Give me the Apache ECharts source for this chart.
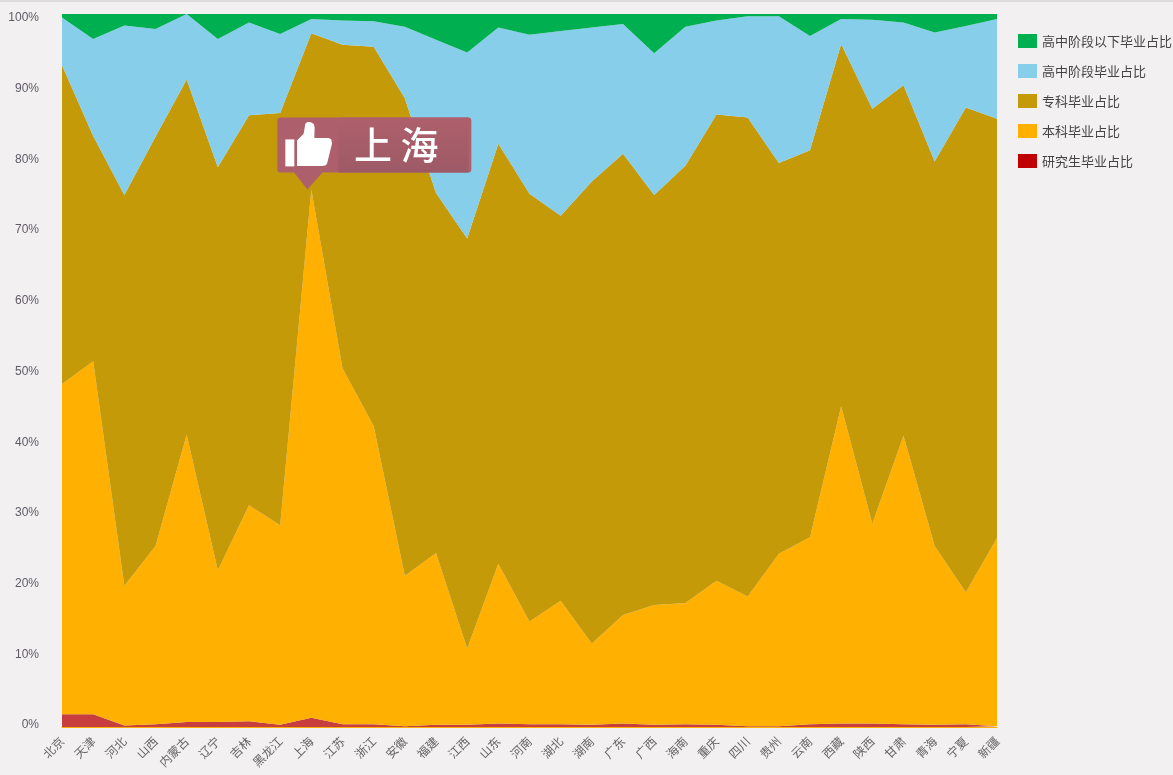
<!DOCTYPE html>
<html>
<head>
<meta charset="utf-8">
<style>
  html, body { margin: 0; padding: 0; background: #f2f0f1; }
  #main { width: 1173px; height: 775px; }
</style>
<script src="https://cdn.jsdelivr.net/npm/echarts@6/dist/echarts.min.js"></script>
</head>
<body>
<div id="main"></div>
<script>
// 省份
let provinces = ['北京', '天津', '河北', '山西', '内蒙古', '辽宁', '吉林', '黑龙江', '上海', '江苏', '浙江',
  '安徽', '福建', '江西', '山东', '河南', '湖北', '湖南', '广东', '广西', '海南',
  '重庆', '四川', '贵州', '云南', '西藏', '陕西', '甘肃', '青海', '宁夏', '新疆'];

// 各学历占比（%）
let graduate = [1.8, 1.8, 0.2, 0.4, 0.7, 0.7, 0.8, 0.3, 1.3, 0.4, 0.4,
  0.1, 0.3, 0.3, 0.5, 0.4, 0.4, 0.3, 0.5, 0.3, 0.4,
  0.3, 0.1, 0.1, 0.4, 0.5, 0.5, 0.4, 0.3, 0.4, 0.1];
let bachelor = [46.3, 49.5, 19.6, 25.0, 40.3, 21.3, 30.3, 28.0, 74.1, 49.9, 41.8,
  21.1, 24.1, 10.7, 22.4, 14.4, 17.3, 11.4, 15.2, 16.8, 17.0,
  20.2, 18.2, 24.2, 26.2, 44.5, 28.0, 40.5, 25.1, 18.5, 26.4];
let college = [44.7, 31.6, 54.8, 57.4, 49.8, 56.5, 54.7, 57.8, 21.9, 45.4, 53.2,
  67.0, 50.5, 57.5, 58.9, 60.0, 54.0, 64.8, 64.7, 57.5, 61.3,
  65.4, 67.2, 54.8, 54.3, 50.8, 58.2, 49.1, 53.9, 68.0, 58.8];
let highSchool = [6.7, 13.6, 23.8, 15.1, 9.2, 18.0, 13.0, 11.1, 2.0, 3.4, 3.6,
  10.0, 21.5, 26.1, 16.3, 22.3, 25.9, 21.6, 18.2, 19.9, 19.5,
  13.2, 14.2, 20.6, 16.0, 3.5, 12.5, 8.8, 18.1, 11.4, 14.0];
let belowHighSchool = [0.5, 3.5, 1.6, 2.1, 0, 3.5, 1.2, 2.8, 0.7, 0.9, 1.0,
  1.8, 3.6, 5.4, 1.9, 2.9, 2.4, 1.9, 1.4, 5.5, 1.8,
  0.9, 0.3, 0.3, 3.1, 0.7, 0.8, 1.2, 2.6, 1.7, 0.7];

let legendNames = ['高中阶段以下毕业占比', '高中阶段毕业占比', '专科毕业占比', '本科毕业占比', '研究生毕业占比'];

let chart = echarts.init(document.getElementById('main'));

function areaSeries(name, data, color) {
  return {
    name: name,
    type: 'line',
    stack: 'total',
    xAxisIndex: 0,
    yAxisIndex: 0,
    data: data,
    symbol: 'none',
    silent: true,
    lineStyle: { width: 0 },
    itemStyle: { color: color },
    areaStyle: { color: color, opacity: 1 }
  };
}

let option = {
  animation: false,
  backgroundColor: '#f2f0f1',
  legend: {
    orient: 'vertical',
    left: 1013,
    top: 29,
    itemWidth: 19,
    itemHeight: 14,
    itemGap: 16,
    icon: 'rect',
    selectedMode: false,
    textStyle: { color: '#444', fontSize: 13, fontFamily: 'Noto Sans CJK SC' },
    data: legendNames.map((name) => {
      // 图例色块颜色与面积略有不同
      if (name === '研究生毕业占比') return { name: name, itemStyle: { color: '#c00000' } };
      return { name: name };
    })
  },
  // 第一个 grid 画面积，第二个只放纵轴刻度（原图刻度比面积略窄）
  grid: [
    { left: 62, top: 14, width: 935, height: 713 },
    { left: 62, top: 18, width: 935, height: 707 }
  ],
  xAxis: [
    {
      gridIndex: 0,
      type: 'category',
      boundaryGap: false,
      data: provinces,
      axisLine: { show: true, lineStyle: { color: '#ffb000', width: 1 } },
      axisTick: { show: false },
      axisLabel: {
        interval: 0,
        rotate: 45,
        margin: 12,
        fontSize: 12,
        color: '#666',
        fontFamily: 'Noto Sans CJK SC'
      }
    },
    { gridIndex: 1, type: 'category', data: provinces, show: false }
  ],
  yAxis: [
    { gridIndex: 0, type: 'value', min: 0, max: 100, show: false },
    {
      gridIndex: 1,
      type: 'value',
      min: 0,
      max: 100,
      interval: 10,
      axisLine: { show: false },
      axisTick: { show: false },
      splitLine: { show: false },
      axisLabel: {
        margin: 23,
        fontSize: 12,
        color: '#5f5a66',
        fontFamily: 'Liberation Sans',
        formatter: '{value}%'
      }
    }
  ],
  series: [
    areaSeries('研究生毕业占比', graduate, '#c83e3e'),
    areaSeries('本科毕业占比', bachelor, '#ffb000'),
    areaSeries('专科毕业占比', college, '#c49a08'),
    areaSeries('高中阶段毕业占比', highSchool, '#87ceeb'),
    areaSeries('高中阶段以下毕业占比', belowHighSchool, '#00b050')
  ]
};
chart.setOption(option);

// 上海的标注，箭头尖落在本科面积的顶点上
let shanghai = provinces.indexOf('上海');
let tip = chart.convertToPixel({ gridIndex: 0 },
  [shanghai, graduate[shanghai] + bachelor[shanghai]]);
let tipX = tip[0] - 4;
let tipY = tip[1];

// 标注里的点都相对箭头尖
function at(points) {
  return points.map((p) => [tipX + p[0], tipY + p[1]]);
}

chart.setOption({
  graphic: [
    {
      type: 'rect',
      z: 100,
      shape: { x: 0, y: 0, width: 1173, height: 2 },
      style: { fill: '#dcdcdc' }
    },
    {
      type: 'polygon',
      z: 100,
      shape: { points: at([[-14, -18], [16, -18], [0, 0]]) },
      style: { fill: '#ad606c' }
    },
    {
      type: 'rect',
      z: 100,
      shape: { x: tipX - 30, y: tipY - 72, width: 194, height: 55, r: 3 },
      style: { fill: '#ad606c' }
    },
    {
      type: 'rect',
      z: 101,
      shape: { x: tipX + 31, y: tipY - 72, width: 130, height: 55 },
      style: {
        fill: new echarts.graphic.LinearGradient(0, 0, 0, 1, [
          { offset: 0, color: '#ae606c' },
          { offset: 1, color: '#9d5a66' }
        ])
      }
    },
    // 大拇指图标
    {
      type: 'rect',
      z: 102,
      shape: { x: tipX - 22, y: tipY - 50, width: 9, height: 27 },
      style: { fill: '#fff' }
    },
    {
      type: 'polygon',
      z: 102,
      shape: {
        points: at([[-10.3, -23.3], [-10.3, -49], [-3.7, -55.7], [-2, -65.7], [0, -67.5], [3, -67.3],
          [6.5, -65.5], [7.3, -62], [7, -51.3], [21.3, -51.3], [24, -50], [24.7, -46],
          [19.7, -25.7], [18, -23.8], [14.7, -23.3]])
      },
      style: { fill: '#fff' }
    },
    {
      type: 'text',
      z: 102,
      x: tipX + 89,
      y: tipY - 45,
      style: {
        text: '上 海',
        fill: '#fff',
        font: '500 38px "Noto Sans CJK SC"',
        align: 'center',
        verticalAlign: 'middle'
      }
    }
  ]
});

window.onresize = () => {
  chart.resize();
};
</script>
</body>
</html>
